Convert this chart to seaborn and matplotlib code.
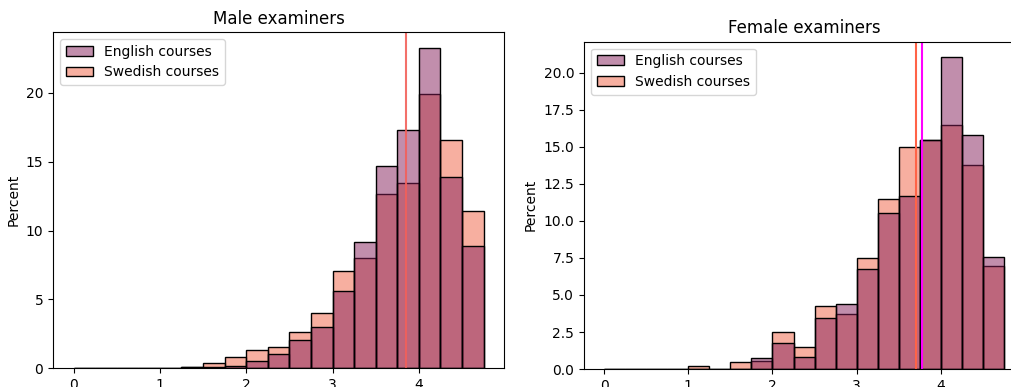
import numpy as np
import pandas as pd
import matplotlib
matplotlib.use("Agg")
import matplotlib.pyplot as plt
import seaborn as sns

# Grade bins (left edges), width 0.25
bin_width = 0.25
bin_left = np.arange(0, 4.75, bin_width)

# Share of course grades per bin (percent), male examiners
male_english = [0, 0, 0, 0, 0.05, 0.10, 0.12, 0.17, 0.53, 1.07, 2.06, 2.98,
                5.62, 9.20, 14.70, 17.34, 23.27, 13.92, 8.91]
male_swedish = [0, 0, 0, 0, 0.05, 0.10, 0.36, 0.85, 1.33, 1.52, 2.64, 4.00,
                7.07, 8.04, 12.71, 13.51, 19.98, 16.59, 11.43]

# Share of course grades per bin (percent), female examiners
female_english = [0, 0, 0, 0, 0, 0, 0, 0.72, 1.73, 0.83, 3.47, 4.39,
                  6.73, 10.56, 11.67, 15.52, 21.08, 15.81, 7.59]
female_swedish = [0, 0, 0, 0, 0.23, 0, 0.50, 0.54, 2.48, 1.51, 4.26, 3.72,
                  7.48, 11.49, 14.98, 15.45, 16.46, 13.74, 6.96]

# Mean grades marked on each panel
male_mean = [3.847]
female_means = [3.70, 3.773]
female_mean_colors = ["tomato", "magenta"]

languages = ["English courses", "Swedish courses"]


def frame(eng, swe):
    centers = bin_left + bin_width / 2
    return pd.DataFrame({
        "grade": np.concatenate([centers, centers]),
        "share": np.concatenate([eng, swe]),
        "Language": [languages[0]] * len(centers) + [languages[1]] * len(centers),
    })


fig = plt.figure(figsize=(10.12, 3.87), dpi=100)
ax1 = fig.add_axes([0.0524, 0.0483, 0.4457, 0.869])
ax2 = fig.add_axes([0.5771, 0.0465, 0.4348, 0.8457])

palette = sns.color_palette("rocket", 2)

for ax, (eng, swe), title in [
    (ax1, (male_english, male_swedish), "Male examiners"),
    (ax2, (female_english, female_swedish), "Female examiners"),
]:
    sns.histplot(data=frame(eng, swe), x="grade", weights="share", hue="Language",
                 hue_order=languages, binwidth=bin_width, binrange=(0, 4.75),
                 stat="percent", common_norm=False, palette=palette, ax=ax)
    ax.set_title(title)
    ax.set_xlabel("")
    sns.move_legend(ax, "upper left", title=None)

for m in male_mean:
    ax1.axvline(m, color="#f2605a", alpha=0.9, lw=1.5)
for m, c in zip(female_means, female_mean_colors):
    ax2.axvline(m, color=c, lw=1.5)

fig.savefig("out.png", dpi=100)
